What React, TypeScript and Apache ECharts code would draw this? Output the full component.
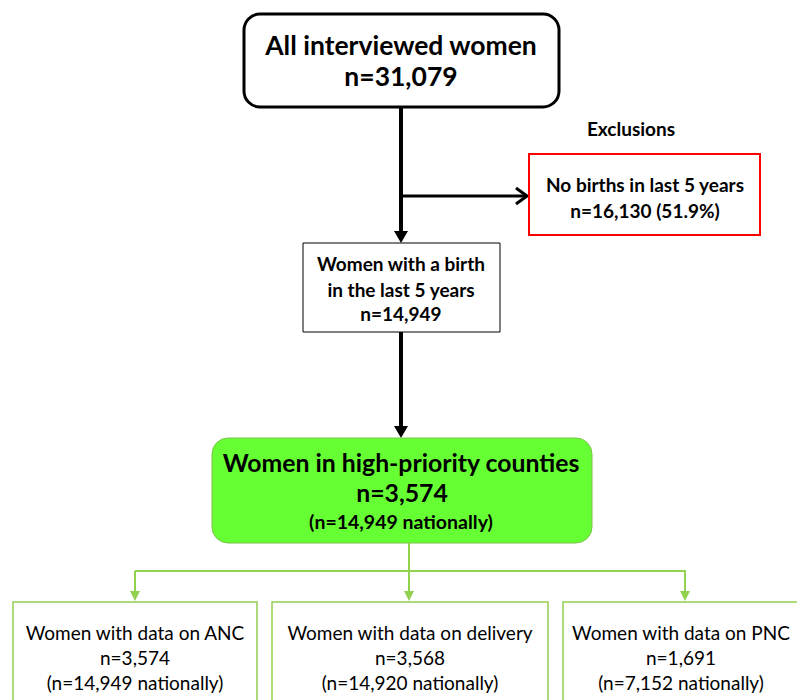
import React, { useEffect, useRef } from "react";
import * as echarts from "echarts";

const totalLabel = "All interviewed women";
const totalN = 31079;
const exclusionTitle = "Exclusions";
const exclusionLabel = "No births in last 5 years";
const exclusionN = 16130;
const exclusionPct = 51.9;
const birthLabel = ["Women with a birth", "in the last 5 years"];
const birthN = 14949;
const priorityLabel = "Women in high-priority counties";
const priorityN = 3574;
const priorityNational = 14949;
const subsetLabels = ["Women with data on ANC", "Women with data on delivery", "Women with data on PNC"];
const subsetN = [3574, 3568, 1691];
const subsetNational = [14949, 14920, 7152];

const fmt = (v: number) => v.toLocaleString("en-US");
const FONT = "Lato, 'Open Sans', sans-serif";
const GREEN = "#92D050";

function arrowDown(x: number, yTip: number, w: number, h: number, color: string) {
  return { type: "polygon", shape: { points: [[x - w / 2, yTip - h], [x + w / 2, yTip - h], [x, yTip]] }, style: { fill: color } };
}
function arrowRight(xTip: number, y: number, w: number, h: number, color: string) {
  return { type: "polyline", shape: { points: [[xTip - h, y - w / 2], [xTip, y], [xTip - h, y + w / 2]] }, style: { stroke: color, lineWidth: 3, fill: null } };
}
function txt(text: string, x: number, y: number, size: number, weight: string, color = "#000") {
  return { type: "text", style: { text, x, y, fill: color, font: `${weight} ${size}px ${FONT}`, align: "center", verticalAlign: "middle" } };
}

export default function App() {
  const ref = useRef<HTMLDivElement>(null);
  useEffect(() => {
    const chart = echarts.init(ref.current!, null, { renderer: "svg" });
    const els: any[] = [];
    // top box
    els.push({ type: "rect", shape: { x: 244, y: 14, width: 315, height: 93, r: 16 }, style: { fill: "#fff", stroke: "#000", lineWidth: 3 } });
    els.push(txt(totalLabel, 401, 45, 26.5, "bold"));
    els.push(txt("n=" + fmt(totalN), 401, 76, 26.5, "bold"));
    // main vertical line
    els.push({ type: "line", shape: { x1: 401, y1: 107, x2: 401, y2: 232 }, style: { stroke: "#000", lineWidth: 4 } });
    els.push(arrowDown(401, 243, 14, 12, "#000"));
    // exclusion branch
    els.push({ type: "line", shape: { x1: 401, y1: 196, x2: 526, y2: 196 }, style: { stroke: "#000", lineWidth: 3 } });
    els.push(arrowRight(527, 196, 16, 11, "#000"));
    els.push(txt(exclusionTitle, 631, 128, 19, "bold"));
    els.push({ type: "rect", shape: { x: 529, y: 154, width: 231, height: 81 }, style: { fill: "#fff", stroke: "#FF0000", lineWidth: 2 } });
    els.push(txt(exclusionLabel, 645, 184, 19, "bold"));
    els.push(txt(`n=${fmt(exclusionN)} (${exclusionPct}%)`, 645, 210, 19, "bold"));
    // birth box
    els.push({ type: "rect", shape: { x: 303, y: 243, width: 197, height: 89 }, style: { fill: "#fff", stroke: "#000", lineWidth: 1 } });
    els.push(txt(birthLabel[0], 401, 263, 19, "bold"));
    els.push(txt(birthLabel[1], 401, 289, 19, "bold"));
    els.push(txt("n=" + fmt(birthN), 401, 313, 19, "bold"));
    els.push({ type: "line", shape: { x1: 401, y1: 332, x2: 401, y2: 428 }, style: { stroke: "#000", lineWidth: 4 } });
    els.push(arrowDown(401, 438, 14, 12, "#000"));
    // green box
    els.push({ type: "rect", shape: { x: 212, y: 438, width: 380, height: 105, r: 16 }, style: { fill: "#66FF33", stroke: "#7CC04A", lineWidth: 1 } });
    els.push(txt(priorityLabel, 401, 462, 24.8, "bold"));
    els.push(txt("n=" + fmt(priorityN), 402, 492, 24.8, "bold"));
    els.push(txt(`(n=${fmt(priorityNational)} nationally)`, 401, 521, 19.5, "bold"));
    // green connectors
    const cx = [135, 409, 685];
    els.push({ type: "line", shape: { x1: 409, y1: 543, x2: 409, y2: 595 }, style: { stroke: GREEN, lineWidth: 2 } });
    els.push({ type: "line", shape: { x1: 135, y1: 571, x2: 686, y2: 571 }, style: { stroke: GREEN, lineWidth: 2 } });
    cx.forEach((x) => {
      els.push({ type: "line", shape: { x1: x, y1: 571, x2: x, y2: 592 }, style: { stroke: GREEN, lineWidth: 2 } });
      els.push(arrowDown(x, 601, 10, 10, GREEN));
    });
    const boxes = [
      [13, 244],
      [272, 276],
      [563, 236],
    ];
    boxes.forEach(([bx, bw], i) => {
      els.push({ type: "rect", shape: { x: bx, y: 602, width: bw, height: 110 }, style: { fill: "#fff", stroke: GREEN, lineWidth: 1.5 } });
      const mx = bx + bw / 2;
      els.push(txt(subsetLabels[i], mx, 632, 19, "normal"));
      els.push(txt("n=" + fmt(subsetN[i]), mx, 657, 19, "normal"));
      els.push(txt(`(n=${fmt(subsetNational[i])} nationally)`, mx, 682, 19, "normal"));
    });
    chart.setOption({ animation: false, backgroundColor: "#fff", graphic: { elements: els } });
    return () => chart.dispose();
  }, []);
  return <div ref={ref} style={{ position: "fixed", left: 0, top: 0, width: 797, height: 700 }} />;
}
